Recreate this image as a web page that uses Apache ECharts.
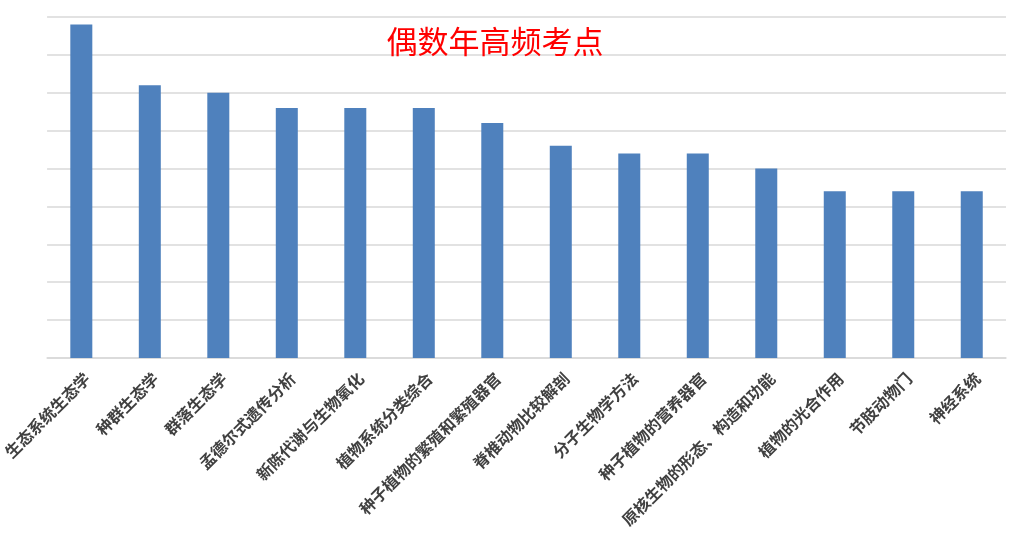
<!DOCTYPE html>
<html><head><meta charset="utf-8">
<script src="https://cdn.jsdelivr.net/npm/echarts@6/dist/echarts.min.js"></script>
<style>html,body{margin:0;padding:0;background:#fff}#c{width:1016px;height:535px}</style>
</head><body><div id="c"></div>
<script>
const categories = ['生态系统生态学','种群生态学','群落生态学','孟德尔式遗传分析','新陈代谢与生物氧化','植物系统分类综合','种子植物的繁殖和繁殖器官','脊椎动物比较解剖','分子生物学方法','种子植物的营养器官','原核生物的形态、构造和功能','植物的光合作用','节肢动物门','神经系统'];
const values = [8.8, 7.2, 7.0, 6.6, 6.6, 6.6, 6.2, 5.6, 5.4, 5.4, 5.0, 4.4, 4.4, 4.4];
const titleText = '偶数年高频考点';
const chart = echarts.init(document.getElementById('c'));
chart.setOption({
  animation:false,
  title:{text:titleText,left:490,top:21,textAlign:'center',textStyle:{color:'#FF0000',fontSize:31,fontWeight:'normal',fontFamily:'Noto Sans CJK SC'}},
  grid:{left:47,right:10,top:17,bottom:177},
  xAxis:{type:'category',data:categories,
    axisLine:{lineStyle:{color:'#D9D9D9',width:1.5}},axisTick:{show:false},
    axisLabel:{rotate:45,interval:0,color:'#404040',fontSize:16,fontWeight:'bold',fontFamily:'Noto Sans CJK SC',margin:12,verticalAlign:'top'}},
  yAxis:{type:'value',min:0,max:9,interval:1,axisLabel:{show:false},axisLine:{show:false},axisTick:{show:false},
    splitLine:{lineStyle:{color:'#D9D9D9',width:1.5}}},
  series:[{type:'bar',data:values,barWidth:22,itemStyle:{color:'#4F81BD'}}]
});
</script></body></html>
